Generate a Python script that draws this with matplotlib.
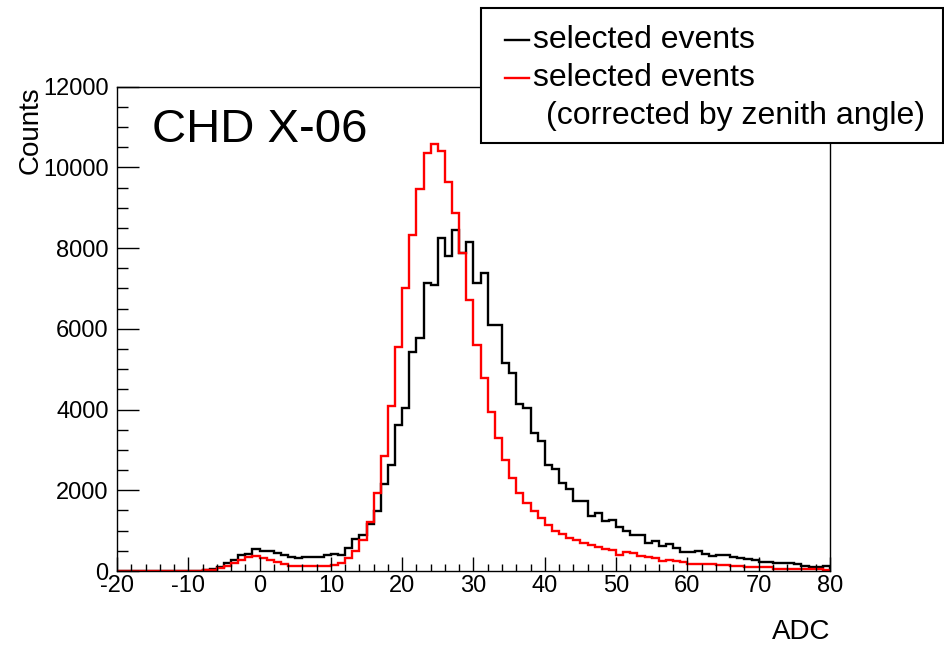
import numpy as np
import matplotlib
matplotlib.use("Agg")
import matplotlib.pyplot as plt
from matplotlib.patches import Rectangle
from matplotlib.lines import Line2D
from matplotlib.ticker import MultipleLocator

plt.rcParams['font.family'] = ['Liberation Sans', 'DejaVu Sans']
plt.rcParams['axes.unicode_minus'] = False

# histogram binning: 100 bins of width 1 from -20 to 80
edges = np.arange(-20, 81, 1)

# selected events (black)
selected = [0, 0, 0, 0, 0, 0, 0, 0, 0, 0, 0, 0,
            35, 55, 110, 200, 265, 395, 425, 535, 495, 500,
            445, 385, 340, 310, 340, 340, 340, 390, 410, 400,
            560, 800, 880, 1175, 1490, 2160, 2630, 3620, 4030, 5430,
            5765, 7145, 7090, 8250, 7805, 8450, 7890, 8160, 7145, 7375,
            6095, 6095, 5145, 4915, 4135, 4030, 3420, 3230, 2630, 2535,
            2170, 2025, 1740, 1740, 1355, 1430, 1235, 1265, 1080, 1000,
            890, 890, 685, 750, 630, 660, 560, 480, 465, 505,
            420, 370, 395, 395, 355, 330, 295, 275, 215, 230,
            190, 205, 205, 165, 125, 90, 105, 125]

# selected events corrected by zenith angle (red)
corrected = [0, 0, 0, 0, 0, 0, 0, 0, 0, 0, 0, 0,
             20, 35, 75, 130, 195, 275, 340, 365, 312, 270,
             215, 165, 135, 125, 125, 125, 125, 125, 145, 200,
             310, 490, 770, 1220, 1925, 2850, 4090, 5560, 7010, 8330,
             9470, 10350, 10580, 10400, 9650, 8860, 7890, 6715, 5600, 4775,
             3935, 3290, 2760, 2310, 1925, 1693, 1480, 1305, 1140, 1000,
             910, 830, 770, 695, 635, 590, 550, 520, 390, 475,
             438, 376, 347, 314, 252, 280, 240, 227, 170, 170,
             170, 170, 149, 149, 124, 124, 91, 91, 91, 91,
             60, 60, 60, 60, 60, 60, 45, 30]

W, H = 945, 645
fig = plt.figure(figsize=(W / 100, H / 100), dpi=100)
ax = fig.add_axes([117 / W, 1 - 571 / H, (830 - 117) / W, (571 - 86.7) / H])

ax.stairs(selected, edges, color='black', linewidth=1.7)
ax.stairs(corrected, edges, color='red', linewidth=1.7)

ax.set_xlim(-20, 80)
ax.set_ylim(0, 12000)
ax.xaxis.set_major_locator(MultipleLocator(10))
ax.xaxis.set_minor_locator(MultipleLocator(2))
ax.yaxis.set_major_locator(MultipleLocator(2000))
ax.yaxis.set_minor_locator(MultipleLocator(500))
ax.tick_params(axis='both', which='both', direction='in', top=False, right=False,
               labelsize=17, width=1)
ax.tick_params(axis='x', which='major', length=10, pad=3)
ax.tick_params(axis='x', which='minor', length=5)
ax.tick_params(axis='y', which='major', length=16, pad=6)
ax.tick_params(axis='y', which='minor', length=8)
for s in ax.spines.values():
    s.set_linewidth(1)

fig.text(830 / W, 1 - 632 / H, 'ADC', ha='right', va='center', fontsize=20)
fig.text(31 / W, 1 - 86 / H, 'Counts', rotation=90, ha='center', va='top', fontsize=20)
fig.text(152 / W, 1 - 130 / H, 'CHD X-06', ha='left', va='center', fontsize=34)

# legend box drawn in figure coordinates
fig.patches.append(Rectangle((481 / W, 1 - 143 / H), (943 - 481) / W, (143 - 8) / H,
                             transform=fig.transFigure, facecolor='white',
                             edgecolor='black', linewidth=1.5, zorder=5))
fig.lines.append(Line2D([505 / W, 529 / W], [1 - 40 / H, 1 - 40 / H],
                        transform=fig.transFigure, color='black', linewidth=1.7, zorder=6))
fig.lines.append(Line2D([505 / W, 529 / W], [1 - 78 / H, 1 - 78 / H],
                        transform=fig.transFigure, color='red', linewidth=1.7, zorder=6))
fig.text(533 / W, 1 - 40 / H, 'selected events', ha='left', va='center', fontsize=23, zorder=7)
fig.text(533 / W, 1 - 78 / H, 'selected events', ha='left', va='center', fontsize=23, zorder=7)
fig.text(546 / W, 1 - 116 / H, '(corrected by zenith angle)', ha='left', va='center',
         fontsize=23, zorder=7)

fig.savefig('out.png', dpi=100)
